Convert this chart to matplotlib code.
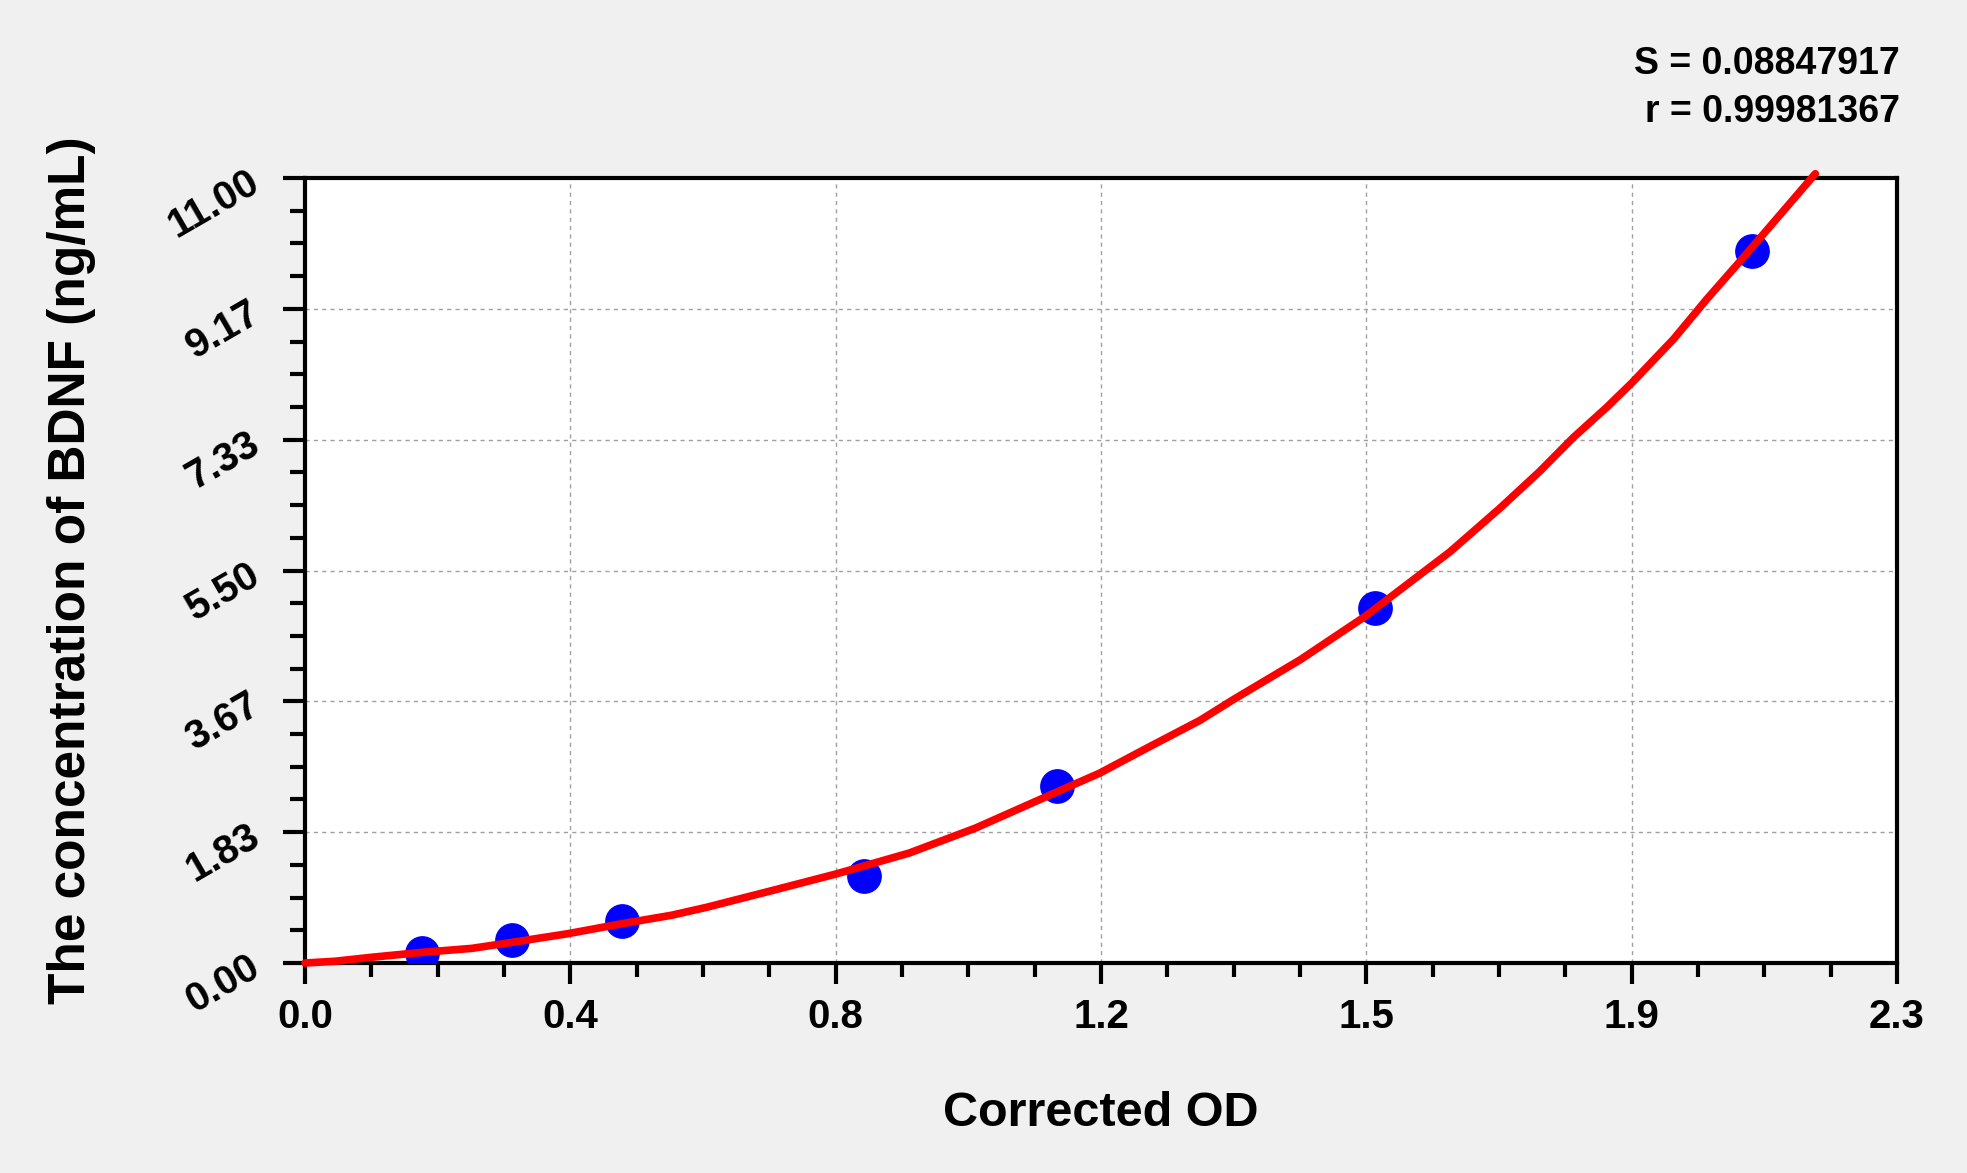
import matplotlib
matplotlib.use("Agg")
import matplotlib.pyplot as plt
from matplotlib.ticker import FixedLocator, AutoMinorLocator

plt.rcParams['font.family'] = ['Liberation Sans', 'DejaVu Sans']

# measured standards
od_points = [0.169, 0.299, 0.458, 0.808, 1.087, 1.546, 2.091]
conc_points = [0.14, 0.32, 0.59, 1.22, 2.48, 4.97, 9.98]

# fitted curve
curve_od = [0.0, 0.043, 0.096, 0.169, 0.241, 0.299, 0.380, 0.458, 0.530, 0.580,
            0.676, 0.767, 0.873, 0.969, 1.094, 1.148, 1.216, 1.293, 1.341, 1.438,
            1.532, 1.654, 1.726, 1.784, 1.832, 1.881, 1.917, 1.977, 2.025, 2.073,
            2.182]
curve_conc = [0.0, 0.024, 0.08, 0.149, 0.205, 0.289, 0.411, 0.551, 0.67, 0.78,
              1.018, 1.247, 1.541, 1.892, 2.43, 2.66, 3.01, 3.40, 3.69, 4.25,
              4.86, 5.76, 6.37, 6.89, 7.36, 7.79, 8.13, 8.74, 9.30, 9.83,
              11.06]

x_ticks = [0.0, 2.3 / 6, 2 * 2.3 / 6, 3 * 2.3 / 6, 4 * 2.3 / 6, 5 * 2.3 / 6, 2.3]
x_tick_labels = ["0.0", "0.4", "0.8", "1.2", "1.5", "1.9", "2.3"]
y_ticks = [0.0, 11 / 6, 2 * 11 / 6, 3 * 11 / 6, 4 * 11 / 6, 5 * 11 / 6, 11.0]
y_tick_labels = ["0.00", "1.83", "3.67", "5.50", "7.33", "9.17", "11.00"]

stat_lines = ["S = 0.08847917", "r = 0.99981367"]

fig = plt.figure(figsize=(19.67, 11.73), dpi=100, facecolor='#f0f0f0')
ax = fig.add_axes([305 / 1967, 1 - 963 / 1173, 1592 / 1967, 785 / 1173])
ax.set_facecolor('white')

ax.plot(curve_od, curve_conc, color='#ff0000', lw=5.5, solid_capstyle='round',
        solid_joinstyle='round', zorder=4, clip_on=False)
ax.plot(od_points, conc_points, 'o', color='#0000ff', ms=24, mec='#0000ff', zorder=3)

ax.set_xlim(0, 2.3)
ax.set_ylim(0, 11)
ax.xaxis.set_major_locator(FixedLocator(x_ticks))
ax.yaxis.set_major_locator(FixedLocator(y_ticks))
ax.xaxis.set_minor_locator(AutoMinorLocator(4))
ax.yaxis.set_minor_locator(AutoMinorLocator(4))
ax.set_xticklabels(x_tick_labels)
ax.set_yticklabels(y_tick_labels)

ax.grid(True, which='major', color='#a0a0a0', linestyle=(0, (3, 3)), lw=1.0)
ax.set_axisbelow(True)

for sp in ax.spines.values():
    sp.set_linewidth(3)
    sp.set_color('black')

ax.tick_params(axis='x', which='major', length=15, width=3, direction='out',
               pad=10, labelsize=29)
ax.tick_params(axis='x', which='minor', length=10, width=3, direction='out')
ax.tick_params(axis='y', which='major', length=16, width=3, direction='out',
               pad=12, labelsize=29)
ax.tick_params(axis='y', which='minor', length=11, width=3, direction='out')

for lab in ax.get_xticklabels():
    lab.set_fontweight('bold')
for lab in ax.get_yticklabels():
    lab.set_fontweight('bold')
    lab.set_rotation(30)

ax.set_xlabel("Corrected OD", fontsize=35, fontweight='bold', va='center')
ax.xaxis.set_label_coords(0.5, (963 - 1113) / 785)
ax.set_ylabel("The concentration of BDNF (ng/mL)", fontsize=37, fontweight='bold',
              va='center')
ax.yaxis.set_label_coords((71.5 - 305) / 1592, 0.5)

fig.text(1900 / 1967, 1 - 64 / 1173, stat_lines[0], ha='right', va='center',
         fontsize=27, fontweight='bold')
fig.text(1900 / 1967, 1 - 112 / 1173, stat_lines[1], ha='right', va='center',
         fontsize=27, fontweight='bold')

fig.savefig("out.png", dpi=100, facecolor=fig.get_facecolor())
